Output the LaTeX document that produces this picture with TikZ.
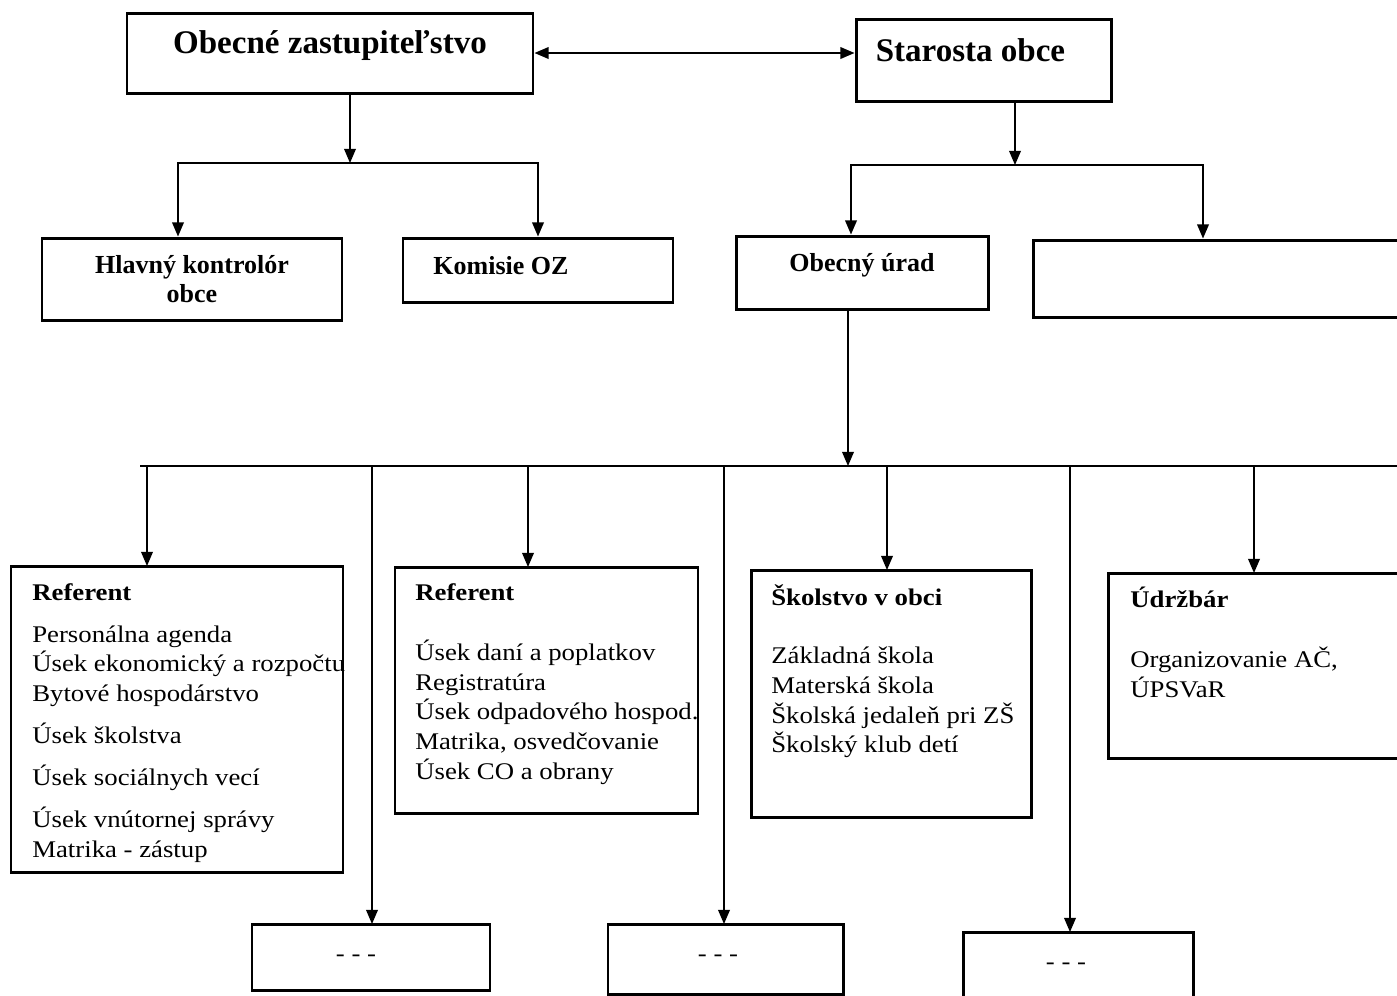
\documentclass[tikz,border=0pt]{standalone}
\usepackage{fontspec}
\setmainfont{Liberation Serif}
\newfontfamily\listfont[FakeStretch=1.12]{Liberation Serif}
\usetikzlibrary{arrows.meta,positioning}

\begin{document}
\begin{tikzpicture}[
    x=0.02cm, y=-0.02cm,
    >={Triangle[length=8pt,width=6.6pt]},
    ->,
    line width=0.9pt,
    box/.style 2 args={draw,line width=1.7pt,inner sep=0pt,
      minimum width=#1*0.02cm,minimum height=#2*0.02cm},
    head node/.style={font=\fontsize{18.8}{22}\selectfont\bfseries},
    unit node/.style={font=\fontsize{14.8}{16.5}\selectfont\bfseries,align=center},
    list node/.style={anchor=north west,inner sep=0pt,align=left,
      font=\listfont\fontsize{13.6}{16.9}\selectfont},
    dots node/.style={font=\listfont\fontsize{13.6}{16}\selectfont}]

  \clip (0,0) rectangle (1397,995);

  % top level
  \node[box={406}{80}] (oz) at (330,53) {};
  \node[head node] (oz-t) at ([shift={(0,-7)}]oz.center) {Obecné zastupiteľstvo};
  \node[box={255}{82}] (st) at (983.5,60) {};
  \node[head node] (st-t) at ([shift={(-13,-10)}]st.center) {Starosta obce};

  % second level
  \node[box={300}{82},unit node] (hk) at (192,279) {Hlavný kontrolór\\obce};
  \node[box={270}{64}] (koz) at (538,270) {};
  \node[unit node] (koz-t) at ([shift={(-37,-4)}]koz.center) {Komisie OZ};
  \node[box={252}{73}] (ou) at (862,272.5) {};
  \node[unit node] (ou-t) at ([shift={(0,-7)}]ou.center) {Obecný úrad};
  \node[box={387}{77}] (xx) at (1226.5,278.5) {};

  % departments
  \node[box={332}{306}] (ref1) at (177,719) {};
  \node[list node] (ref1-t) at ([shift={(22,18)}]ref1.north west) {\textbf{Referent}\\[7pt]
    Personálna agenda\\ Úsek ekonomický a rozpočtu\\ Bytové hospodárstvo\\[7pt]
    Úsek školstva\\[7pt] Úsek sociálnych vecí\\[7pt]
    Úsek vnútornej správy\\ Matrika - zástup};
  \node[box={303}{246}] (ref2) at (546.5,690) {};
  \node[list node] (ref2-t) at ([shift={(21,17)}]ref2.north west) {\textbf{Referent}\\[17.5pt]
    Úsek daní a poplatkov\\ Registratúra\\ Úsek odpadového hospod.\\
    Matrika, osvedčovanie\\ Úsek CO a obrany};
  \node[box={280}{247}] (sk) at (891,693.5) {};
  \node[list node] (sk-t) at ([shift={(21,15)}]sk.north west) {\textbf{Školstvo v obci}\\[16.5pt]
    Základná škola\\ Materská škola\\ Školská jedaleň pri ZŠ\\ Školský klub detí};
  \node[box={312}{185}] (ud) at (1264,665.5) {};
  \node[list node] (ud-t) at ([shift={(23,15)}]ud.north west) {\textbf{Údržbár}\\[17pt]
    Organizovanie AČ,\\ ÚPSVaR};

  % bottom row
  \node[box={238}{66}] (b1) at (371,957) {};
  \node[dots node] (b1-t) at (356,958) {- - -};
  \node[box={235}{70}] (b2) at (725.5,959) {};
  \node[dots node] (b2-t) at (718,958) {- - -};
  \node[box={230}{78}] (b3) at (1078,971) {};
  \node[dots node] (b3-t) at (1066,966) {- - -};

  % connectors
  \draw[<->] (oz.east) -- (oz.east -| st.west);

  \coordinate (oz-fork) at (350,163);
  \draw (oz.south -| oz-fork) -- (oz-fork);
  \draw (oz-fork) -| ([shift={(-14,0)}]hk.north);
  \draw (oz-fork) -| (koz.north);

  \coordinate (st-fork) at (1015,165);
  \draw (st.south -| st-fork) -- (st-fork);
  \draw (st-fork) -| ([shift={(-11,0)}]ou.north);
  \draw (st-fork) -| ([shift={(-23.5,0)}]xx.north);

  \coordinate (bus) at (848,466);
  \coordinate (bus-w) at (140,466);
  \coordinate (bus-e) at (1420,466);
  \draw (ou.south -| bus) -- (bus);
  \draw[-] (bus-w) -- (bus-e);

  \coordinate (ref1-in) at (147,566);
  \coordinate (ref2-in) at (528,567);
  \coordinate (sk-in) at (887,570);
  \coordinate (ud-in) at (1254,573);
  \coordinate (b1-in) at (372,924);
  \coordinate (b2-in) at (724,924);
  \coordinate (b3-in) at (1070,932);
  \foreach \n in {ref1,ref2,sk,ud,b1,b2,b3}
    \draw (\n-in |- bus) -- (\n-in);
\end{tikzpicture}
\end{document}
